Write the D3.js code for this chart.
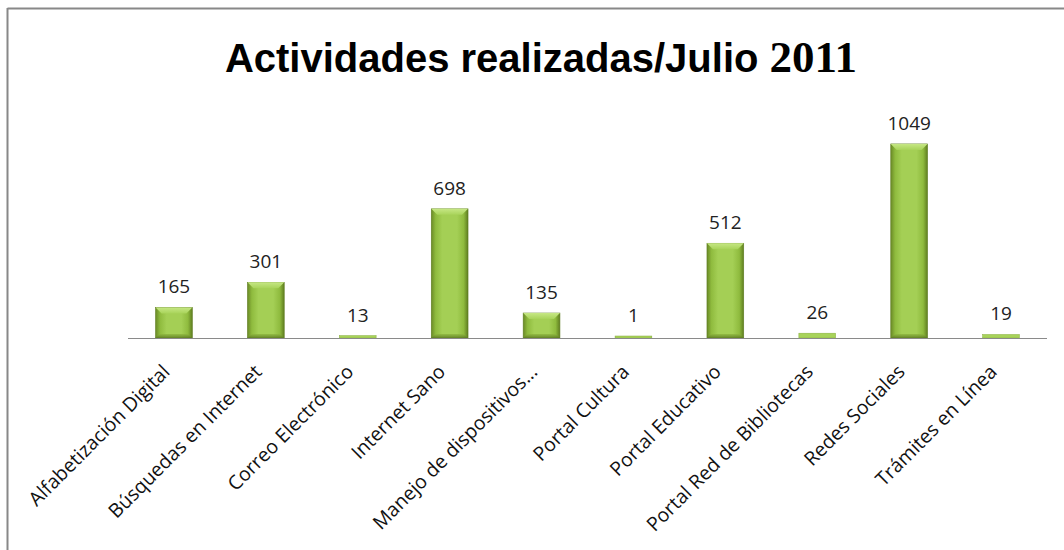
<!DOCTYPE html>
<html>
<head>
<meta charset="utf-8">
<script src="https://cdn.jsdelivr.net/npm/d3@7"></script>
<style>
  html, body { margin: 0; padding: 0; background: #fff; }
  svg { display: block; }
</style>
</head>
<body>
<svg id="chart" width="1064" height="550"></svg>
<script>
const categories = [
  "Alfabetización Digital",
  "Búsquedas en Internet",
  "Correo Electrónico",
  "Internet Sano",
  "Manejo de dispositivos...",
  "Portal Cultura",
  "Portal Educativo",
  "Portal Red de Bibliotecas",
  "Redes Sociales",
  "Trámites en Línea"
];
const values = [165, 301, 13, 698, 135, 1, 512, 26, 1049, 19];
const titleMain = "Actividades realizadas/Julio ";
const titleYear = "2011";

(function () {
const svg = d3.select("#chart");
const W = 1064, H = 550;
const plotLeft = 128, plotRight = 1047, base = 338, plotTop = 116;

svg.append("line").attr("x1", 7.5).attr("x2", W).attr("y1", 8.5).attr("y2", 8.5)
  .attr("stroke", "#888").attr("stroke-width", 2);
svg.append("line").attr("x1", 7.5).attr("x2", 7.5).attr("y1", 8).attr("y2", H)
  .attr("stroke", "#888").attr("stroke-width", 2);

const defs = svg.append("defs");
const g1 = defs.append("linearGradient").attr("id", "barGrad").attr("x1", "0").attr("x2", "1").attr("y1", "0").attr("y2", "0");
[["0%", "#6a8a26"], ["12%", "#8fbb3e"], ["30%", "#a4cf55"], ["70%", "#a4cf55"], ["88%", "#8fbb3e"], ["100%", "#5f7d20"]]
  .forEach(([o, c]) => g1.append("stop").attr("offset", o).attr("stop-color", c));
const g2 = defs.append("linearGradient").attr("id", "topGrad").attr("x1", "0").attr("x2", "0").attr("y1", "0").attr("y2", "1");
[["0%", "#c6e784"], ["100%", "#a8d35a"]]
  .forEach(([o, c]) => g2.append("stop").attr("offset", o).attr("stop-color", c));
const g3 = defs.append("linearGradient").attr("id", "botGrad").attr("x1", "0").attr("x2", "0").attr("y1", "0").attr("y2", "1");
[["0%", "#8fb840"], ["100%", "#5a7720"]]
  .forEach(([o, c]) => g3.append("stop").attr("offset", o).attr("stop-color", c));

const x = d3.scaleBand().domain(categories).range([plotLeft, plotRight]).paddingInner(0.6).paddingOuter(0.3);
const y = d3.scaleLinear().domain([0, 1200]).range([base, plotTop]);

const data = categories.map((c, i) => ({ c, v: values[i] }));

const bars = svg.append("g").selectAll("g").data(data).join("g");
bars.append("rect")
  .attr("x", d => x(d.c)).attr("width", x.bandwidth())
  .attr("y", d => Math.min(y(d.v), base - 2)).attr("height", d => Math.max(2, base - y(d.v)))
  .attr("fill", "url(#barGrad)")
  .attr("stroke", "#5f7d22").attr("stroke-width", 0.6);
bars.filter(d => base - y(d.v) > 14).append("path")
  .attr("d", d => {
    const x0 = x(d.c), x1 = x0 + x.bandwidth(), t = y(d.v), b = 6;
    return `M${x0},${t}L${x1},${t}L${x1 - b},${t + b}L${x0 + b},${t + b}Z`;
  })
  .attr("fill", "url(#topGrad)");
bars.filter(d => base - y(d.v) > 14).append("path")
  .attr("d", d => {
    const x0 = x(d.c), x1 = x0 + x.bandwidth(), b = 4;
    return `M${x0},${base}L${x1},${base}L${x1 - b},${base - b}L${x0 + b},${base - b}Z`;
  })
  .attr("fill", "url(#botGrad)").attr("opacity", 0.8);
bars.filter(d => base - y(d.v) <= 14).select("rect")
  .attr("fill", "#a8d35a").attr("stroke", "#86ad3c").attr("stroke-width", 0.5);

const xAxis = d3.axisBottom(x).tickSize(0).tickFormat("");
const axisG = svg.append("g").attr("transform", `translate(0,${base})`).call(xAxis);
axisG.select(".domain").attr("stroke", "#8a8a8a").attr("stroke-width", 1.2)
  .attr("d", `M${plotLeft},0.5H${plotRight}`);

svg.append("g").selectAll("text").data(data).join("text")
  .attr("x", d => x(d.c) + x.bandwidth() / 2)
  .attr("y", d => Math.min(y(d.v), base - 2) - 14)
  .attr("text-anchor", "middle")
  .attr("style", "font-family:'Open Sans',sans-serif;font-size:19px")
  .attr("fill", "#222")
  .text(d => d.v);

svg.append("g").selectAll("text").data(data).join("text")
  .attr("transform", d => `translate(${x(d.c) + x.bandwidth() / 2 - 3},${base + 35}) rotate(-45)`)
  .attr("text-anchor", "end")
  .attr("style", "font-family:'Open Sans',sans-serif;font-size:19.5px")
  .attr("fill", "#111")
  .text(d => d.c);

const title = svg.append("text")
  .attr("x", 541).attr("y", 72)
  .attr("text-anchor", "middle")
  .attr("fill", "#000");
title.append("tspan")
  .attr("style", "font-family:'Liberation Sans',Arial,sans-serif;font-weight:bold;font-size:40px")
  .text(titleMain);
title.append("tspan")
  .attr("style", "font-family:'Liberation Serif','Times New Roman',serif;font-weight:bold;font-size:45px")
  .text(titleYear);
})();
</script>
</body>
</html>
